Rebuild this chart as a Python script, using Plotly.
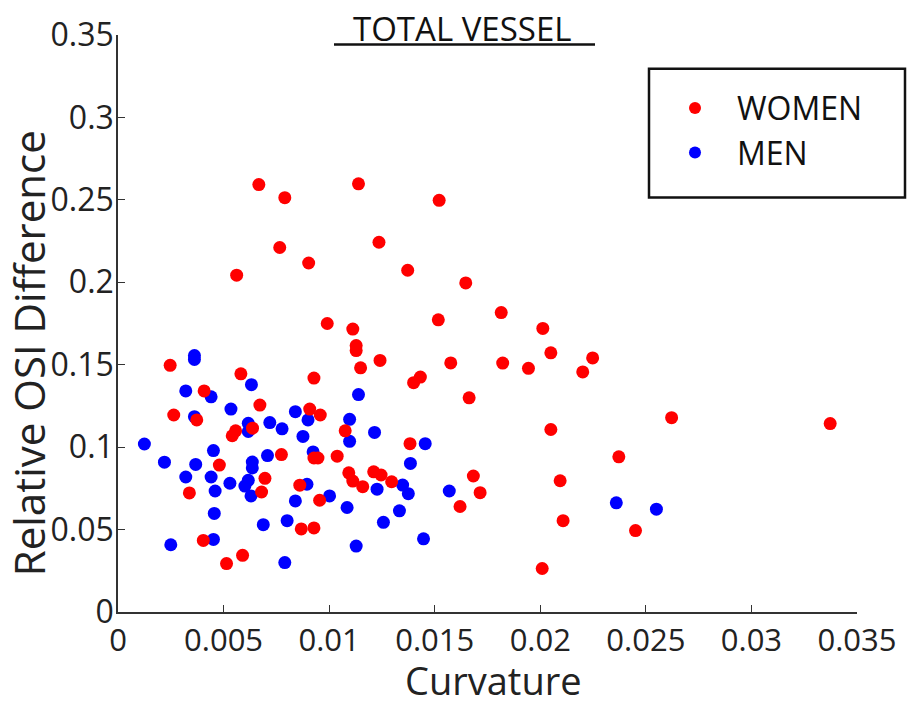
import plotly.graph_objects as go

# ---- data ----
women_x = [0.00247, 0.00582, 0.00408, 0.00672, 0.00264, 0.00373, 0.00557, 0.00541, 0.00637, 0.00774,
           0.0048, 0.00696, 0.0068, 0.00338, 0.00861, 0.00868, 0.00404, 0.0059, 0.00514, 0.00928,
           0.00908, 0.00958, 0.00928, 0.00947, 0.00991, 0.01112, 0.01128, 0.01128, 0.01241, 0.01149,
           0.01576, 0.014, 0.01432, 0.01663, 0.01076, 0.01383, 0.01038, 0.01093, 0.01112, 0.01159,
           0.01211, 0.01246, 0.01296, 0.00955, 0.01683, 0.01715, 0.0162, 0.00928, 0.00667, 0.0079,
           0.01139, 0.01521, 0.00766, 0.00903, 0.00562, 0.01236, 0.01372, 0.01647, 0.01815, 0.01517,
           0.02012, 0.01822, 0.01944, 0.0205, 0.02248, 0.02201, 0.02622, 0.0205, 0.02372, 0.02094,
           0.02108, 0.02451, 0.02009, 0.03373]
women_y = [0.1496, 0.1445, 0.1341, 0.1255, 0.1195, 0.1165, 0.1099, 0.1069, 0.1115, 0.0955,
           0.0891, 0.0811, 0.0728, 0.0722, 0.0769, 0.0504, 0.0434, 0.0344, 0.0294, 0.1419,
           0.1231, 0.1195, 0.0934, 0.0934, 0.175, 0.1716, 0.1616, 0.1586, 0.1526, 0.1481,
           0.1511, 0.1391, 0.1425, 0.1299, 0.1099, 0.1021, 0.0945, 0.0844, 0.0794, 0.076,
           0.085, 0.0831, 0.079, 0.0678, 0.0825, 0.0724, 0.064, 0.051, 0.2593, 0.2513,
           0.2597, 0.2497, 0.2211, 0.2117, 0.2043, 0.2243, 0.2073, 0.1996, 0.1816, 0.1772,
           0.172, 0.151, 0.1478, 0.1572, 0.1541, 0.1456, 0.1179, 0.1107, 0.0941, 0.0796,
           0.0554, 0.0494, 0.0264, 0.1143]

men_x = [0.00362, 0.00362, 0.00321, 0.00441, 0.00632, 0.00535, 0.00362, 0.00617, 0.00617, 0.00719,
         0.00777, 0.0084, 0.00876, 0.00125, 0.00452, 0.0022, 0.00368, 0.00321, 0.00441, 0.00636,
         0.00636, 0.00708, 0.0053, 0.0046, 0.00617, 0.00601, 0.0063, 0.0084, 0.00456, 0.00688,
         0.00801, 0.00452, 0.0025, 0.0079, 0.01139, 0.009, 0.01097, 0.01097, 0.01215, 0.01455,
         0.01385, 0.00924, 0.00895, 0.01002, 0.01227, 0.01348, 0.01375, 0.01569, 0.01085, 0.01333,
         0.01257, 0.01128, 0.01447, 0.0236, 0.0255]
men_y = [0.1556, 0.1532, 0.1341, 0.1305, 0.1379, 0.1231, 0.1185, 0.1145, 0.1095, 0.1149,
         0.1111, 0.1215, 0.1065, 0.1019, 0.0979, 0.0909, 0.0895, 0.0819, 0.0819, 0.091,
         0.0874, 0.0949, 0.0781, 0.0734, 0.0799, 0.0764, 0.0704, 0.0674, 0.0598, 0.053,
         0.0554, 0.044, 0.0408, 0.03, 0.1319, 0.1165, 0.1169, 0.1035, 0.1089, 0.1021,
         0.0901, 0.0971, 0.0775, 0.0704, 0.0745, 0.077, 0.0718, 0.0734, 0.0634, 0.0614,
         0.0544, 0.04, 0.0444, 0.0662, 0.0624]

x_ticks = [0, 0.005, 0.01, 0.015, 0.02, 0.025, 0.03, 0.035]
x_ticklabels = ["0", "0.005", "0.01", "0.015", "0.02", "0.025", "0.03", "0.035"]
y_ticks = [0, 0.05, 0.1, 0.15, 0.2, 0.25, 0.3, 0.35]
y_ticklabels = ["0", "0.05", "0.1", "0.15", "0.2", "0.25", "0.3", "0.35"]

FONT = "Open Sans"

fig = go.Figure()
fig.add_trace(go.Scatter(x=men_x, y=men_y, mode="markers", name="MEN", legendrank=2,
                         marker=dict(color="#0000FF", size=13, line=dict(width=0))))
fig.add_trace(go.Scatter(x=women_x, y=women_y, mode="markers", name="WOMEN", legendrank=1,
                         marker=dict(color="#FF0000", size=13, line=dict(width=0))))

L, R, T, B = 118, 59, 30, 94
W, H = 916, 706
pw, ph = W - L - R, H - T - B

def px_x(p):
    return (p - L) / pw

def px_y(p):
    return (H - B - p) / ph

fig.update_layout(
    width=W, height=H,
    margin=dict(l=L, r=R, t=T, b=B),
    paper_bgcolor="white", plot_bgcolor="white",
    font=dict(family=FONT, color="#222222"),
    showlegend=True,
    legend=dict(x=px_x(653), y=px_y(76), xanchor="left", yanchor="top",
                bgcolor="rgba(0,0,0,0)", borderwidth=0, itemwidth=74,
                font=dict(family=FONT, size=32, color="#111111"),
                itemsizing="constant", tracegroupgap=0),
    xaxis=dict(range=[0, 0.035], tickvals=x_ticks, ticktext=x_ticklabels,
               showgrid=False, zeroline=False, showline=True, linecolor="#333333", linewidth=1.5,
               ticks="inside", ticklen=7, tickwidth=1.2, tickcolor="#333333",
               tickfont=dict(family=FONT, size=31, color="#222222"),
               fixedrange=True),
    yaxis=dict(range=[0, 0.35], tickvals=y_ticks, ticktext=y_ticklabels,
               showgrid=False, zeroline=False, showline=True, linecolor="#333333", linewidth=1.5,
               ticks="inside", ticklen=7, tickwidth=1.2, tickcolor="#333333",
               tickfont=dict(family=FONT, size=32, color="#222222"),
               ticklabelstandoff=-4,
               fixedrange=True),
    annotations=[
        dict(text="TOTAL VESSEL", xref="paper", yref="paper", x=px_x(462), y=px_y(23),
             xanchor="center", yanchor="middle", showarrow=False,
             font=dict(family=FONT, size=33, color="#111111")),
        dict(text="Curvature", xref="paper", yref="paper", x=px_x(493), y=px_y(681),
             xanchor="center", yanchor="middle", showarrow=False,
             font=dict(family=FONT, size=38, color="#222222")),
        dict(text="Relative OSI Difference", xref="paper", yref="paper", x=px_x(28), y=px_y(351),
             xanchor="center", yanchor="middle", showarrow=False, textangle=-90,
             font=dict(family=FONT, size=42, color="#222222")),
    ],
    shapes=[
        dict(type="line", xref="paper", yref="paper", x0=px_x(334), x1=px_x(595),
             y0=px_y(39.5), y1=px_y(39.5), line=dict(color="#111111", width=2.5)),
        dict(type="rect", xref="paper", yref="paper", x0=px_x(649), x1=px_x(905),
             y0=px_y(194), y1=px_y(64), line=dict(color="#111111", width=2.5)),
    ],
)

fig.write_html("out.html")
